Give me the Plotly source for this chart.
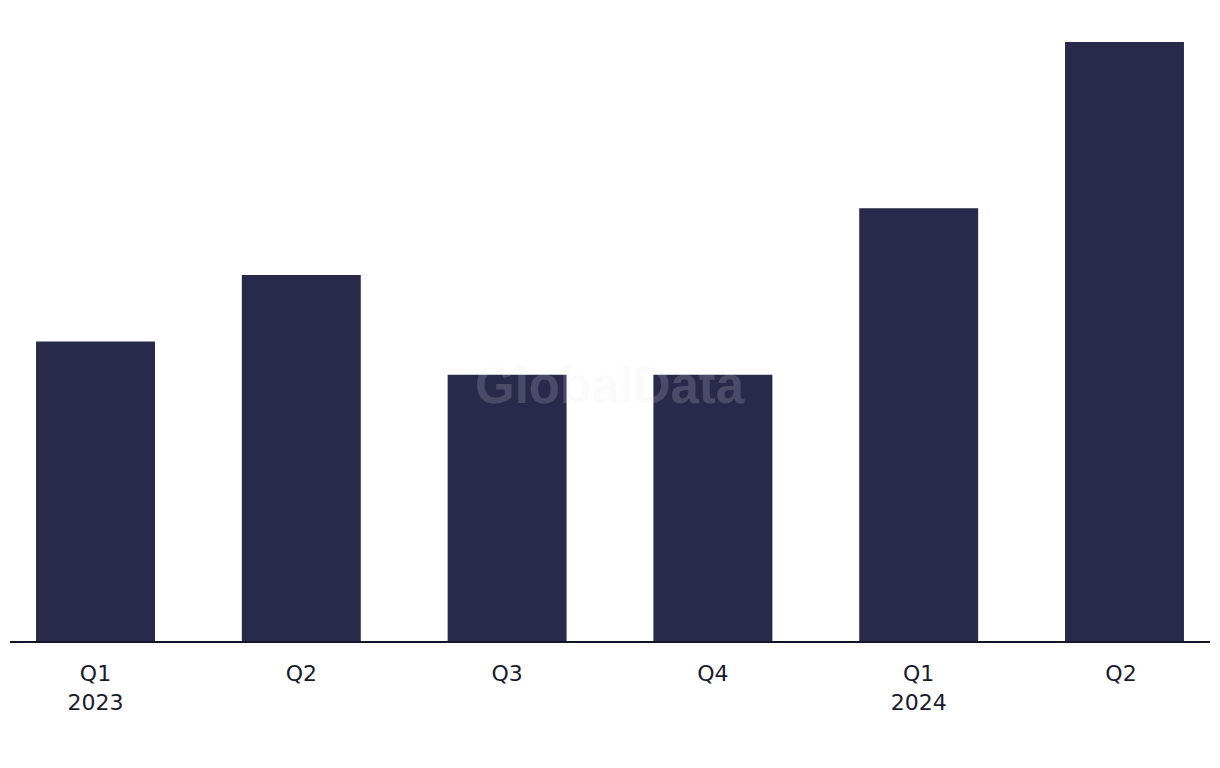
import plotly.graph_objects as go

categories = ["Q1<br>2023", "Q2", "Q3", "Q4", "Q1<br>2024", "Q2 "]
values = [9, 11, 8, 8, 13, 18]

bar_color = "#29294b"

fig = go.Figure(go.Bar(
    x=list(range(len(categories))),
    y=values,
    marker=dict(color=bar_color, line=dict(width=0)),
    width=0.578,
    hoverinfo="skip",
))

fig.update_layout(
    width=1220, height=768,
    margin=dict(l=2, r=18, t=1, b=135),
    paper_bgcolor="white", plot_bgcolor="white",
    showlegend=False,
    font=dict(family="DejaVu Sans, Liberation Sans, sans-serif", size=22, color="#1a1a2e"),
    xaxis=dict(
        tickmode="array",
        tickvals=list(range(len(categories))),
        ticktext=categories,
        range=[-0.4155, 5.4155],
        showgrid=False, zeroline=False,
        showline=True, linecolor="#141428", linewidth=2,
        ticks="", ticklabelstandoff=12,
    ),
    yaxis=dict(
        range=[0, 18.99], visible=False, showgrid=False, zeroline=False,
    ),
    annotations=[dict(
        text="<b>GlobalData</b>", x=0.5, y=0.405, xref="paper", yref="paper",
        showarrow=False,
        font=dict(family="Liberation Sans, Arial, sans-serif", size=51,
                  color="rgba(235,235,240,0.18)"),
    )],
)

fig.write_html("out.html")
